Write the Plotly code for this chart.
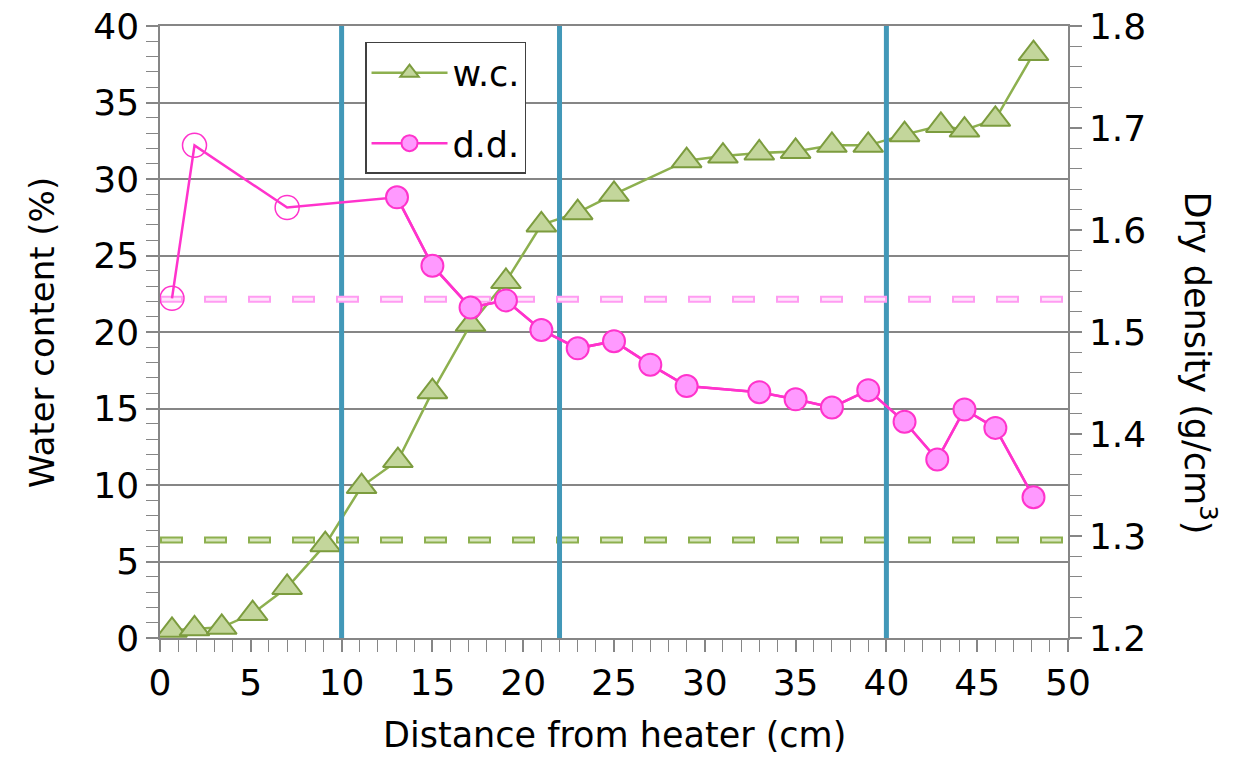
import plotly.graph_objects as go

# ---- data ----
dist_wc = [0.66, 1.9, 3.4, 5.1, 7.0, 9.1, 11.1, 13.1, 15.0, 17.1, 19.05, 21.0, 23.0, 25.0,
           29.0, 31.0, 33.0, 35.0, 37.0, 39.0, 41.0, 43.0, 44.3, 46.0, 48.1]
water_content = [0.5, 0.6, 0.7, 1.6, 3.3, 6.1, 9.9, 11.6, 16.1, 20.5, 23.3, 27.0, 27.8, 29.0,
                 31.2, 31.5, 31.7, 31.8, 32.2, 32.2, 32.9, 33.5, 33.2, 33.9, 38.2]

dist_dd_open = [0.66, 1.9, 7.0]
dry_density_open = [1.533, 1.683, 1.622]

dist_dd = [13.05, 15.0, 17.1, 19.05, 21.0, 23.0, 25.0, 27.0, 29.0, 33.0, 35.0, 37.0, 39.0,
           41.0, 42.8, 44.3, 46.0, 48.1]
dry_density = [1.632, 1.565, 1.524, 1.531, 1.502, 1.484, 1.491, 1.468, 1.447, 1.441, 1.434,
               1.426, 1.443, 1.412, 1.375, 1.424, 1.406, 1.338]

wc_initial = 6.4
dd_initial = 1.532
x_span = [0, 50]
boundaries = [10, 22, 40]

# ---- styles ----
FONT = "DejaVu Sans"
GREEN = "#8DB04F"
GREEN_FILL = "#C3D69B"
GREEN_EDGE = "#7C9C3E"
PINK = "#FF33CC"
PINK_FILL = "#FF99FF"
BLUE = "#4298B8"
GREY = "#868686"

PLOT_W = 908  # plot-area width in px
px_per_x = PLOT_W / (x_span[1] - x_span[0])
DASH_OUT = "23px,21px"
DASH_IN = "19px,25px"
inner_span = [x_span[0] + 2 / px_per_x, x_span[1]]

fig = go.Figure()

# initial-value dashed lines (outlined dash look)
fig.add_trace(go.Scatter(x=x_span, y=[wc_initial] * 2, mode="lines", showlegend=False,
                         line=dict(color="#8DB04F", width=7, dash=DASH_OUT), hoverinfo="skip"))
fig.add_trace(go.Scatter(x=inner_span, y=[wc_initial] * 2, mode="lines", showlegend=False,
                         line=dict(color="#D9E6C0", width=3, dash=DASH_IN), hoverinfo="skip"))
fig.add_trace(go.Scatter(x=x_span, y=[dd_initial] * 2, mode="lines", showlegend=False, yaxis="y2",
                         line=dict(color="#FF9CF2", width=7, dash=DASH_OUT), hoverinfo="skip"))
fig.add_trace(go.Scatter(x=inner_span, y=[dd_initial] * 2, mode="lines", showlegend=False,
                         yaxis="y2",
                         line=dict(color="#FFE6FB", width=3, dash=DASH_IN), hoverinfo="skip"))

# water content
fig.add_trace(go.Scatter(x=dist_wc, y=water_content, mode="lines+markers", name="w.c.",
                         legendgroup="a",
                         line=dict(color=GREEN, width=2.5),
                         marker=dict(symbol="triangle-up", size=26, color=GREEN_FILL,
                                     line=dict(color=GREEN_EDGE, width=2))))

# dry density: full connecting line
fig.add_trace(go.Scatter(x=dist_dd_open + dist_dd, y=dry_density_open + dry_density, mode="lines",
                         yaxis="y2", showlegend=False, line=dict(color=PINK, width=2.5)))
fig.add_trace(go.Scatter(x=dist_dd_open, y=dry_density_open, mode="markers", yaxis="y2",
                         showlegend=False,
                         marker=dict(symbol="circle-open", size=24, color=PINK,
                                     line=dict(width=1.5))))
fig.add_trace(go.Scatter(x=dist_dd, y=dry_density, mode="lines+markers", name="d.d.",
                         yaxis="y2", legendgroup="b",
                         line=dict(color=PINK, width=2.5),
                         marker=dict(symbol="circle", size=22, color=PINK_FILL,
                                     line=dict(color=PINK, width=2))))

# boundary lines
for b in boundaries:
    fig.add_trace(go.Scatter(x=[b, b], y=[0, 40], mode="lines", showlegend=False,
                             line=dict(color=BLUE, width=5), hoverinfo="skip"))

tickfont = dict(family=FONT, size=36, color="#000000")

fig.update_layout(
    width=1248, height=757,
    margin=dict(l=160, r=180, t=26, b=119, autoexpand=False),
    plot_bgcolor="white", paper_bgcolor="white",
    font=dict(family=FONT, color="#000000"),
    xaxis=dict(range=x_span, dtick=5, tick0=0, showgrid=False, zeroline=False,
               showline=True, linecolor=GREY, linewidth=1.5, mirror=True,
               ticks="outside", ticklen=12, tickcolor=GREY, tickwidth=1.5,
               tickfont=tickfont, ticklabeloverflow="allow",
               minor=dict(dtick=1, ticks="outside", ticklen=12, tickcolor=GREY, tickwidth=1.2,
                          showgrid=False)),
    yaxis=dict(range=[0, 40], dtick=5, tick0=0, showgrid=True, gridcolor=GREY, gridwidth=1.5,
               zeroline=False, showline=True, linecolor=GREY, linewidth=1.5,
               ticks="outside", ticklen=12, tickcolor=GREY, tickwidth=1.5,
               tickfont=tickfont, ticklabeloverflow="allow",
               minor=dict(dtick=1, ticks="outside", ticklen=12, tickcolor=GREY, tickwidth=1.2,
                          showgrid=False)),
    yaxis2=dict(range=[1.2, 1.8], dtick=0.1, tick0=1.2, overlaying="y", side="right",
                showgrid=False, zeroline=False, showline=True, linecolor=GREY, linewidth=1.5,
                ticks="outside", ticklen=12, tickcolor=GREY, tickwidth=1.5,
                tickformat=".1f", tickfont=tickfont, ticklabeloverflow="allow",
                minor=dict(dtick=0.02, ticks="outside", ticklen=12, tickcolor=GREY,
                           tickwidth=1.2, showgrid=False)),
    legend=dict(x=0.2258, y=0.974, xanchor="left", yanchor="top",
                bgcolor="white", bordercolor="#404040", borderwidth=1.5,
                font=dict(family=FONT, size=35, color="#000000"),
                tracegroupgap=22, itemwidth=76),
    showlegend=True,
    annotations=[
        dict(text="Distance from heater (cm)", xref="paper", yref="paper", x=0.5, y=-0.158,
             showarrow=False, font=dict(family=FONT, size=35), xanchor="center", yanchor="middle"),
        dict(text="Water content (%)", xref="paper", yref="paper", x=-0.13, y=0.5,
             showarrow=False, textangle=-90, font=dict(family=FONT, size=34),
             xanchor="center", yanchor="middle"),
        dict(text="Dry density (g/cm<sup>3</sup>)", xref="paper", yref="paper", x=1.145, y=0.449,
             showarrow=False, textangle=90, font=dict(family=FONT, size=35),
             xanchor="center", yanchor="middle"),
    ],
)

# remove the default 8px page margin so the figure fills the window exactly
fig.write_html("out.html",
               config={"displayModeBar": False},
               post_script="document.body.style.margin='0';document.body.style.overflow='hidden';")
